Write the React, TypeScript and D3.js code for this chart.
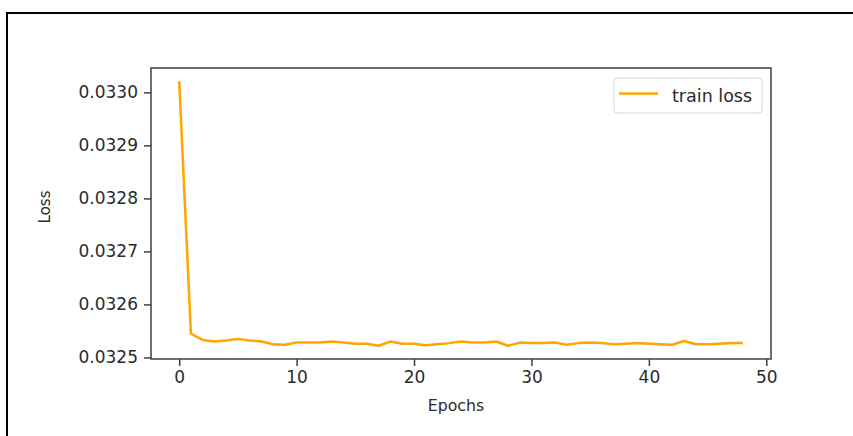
import React, { useEffect, useRef } from 'react';
import * as d3 from 'd3';

// train loss per epoch
const epochs = d3.range(0, 49);
const trainLoss = [
  0.033021, 0.032545, 0.032533, 0.03253, 0.032532, 0.032535, 0.032532, 0.03253, 0.032525, 0.032524,
  0.032528, 0.032528, 0.032528, 0.03253, 0.032528, 0.032526, 0.032526, 0.032522, 0.03253, 0.032526,
  0.032526, 0.032523, 0.032525, 0.032527, 0.03253, 0.032528, 0.032528, 0.03253, 0.032522, 0.032528,
  0.032527, 0.032527, 0.032528, 0.032524, 0.032527, 0.032528, 0.032527, 0.032525, 0.032526, 0.032527,
  0.032526, 0.032525, 0.032524, 0.032531, 0.032525, 0.032525, 0.032526, 0.032527, 0.032527,
];
const xTicks = [0, 10, 20, 30, 40, 50];
const yTicks = [0.0325, 0.0326, 0.0327, 0.0328, 0.0329, 0.033];
const seriesName = 'train loss';

function LossChart() {
  const svgRef = useRef<SVGSVGElement>(null);

  useEffect(() => {
    const svg = d3.select(svgRef.current);
    svg.selectAll('*').remove();

    const width = 853;
    const height = 436;
    const margin = { top: 68, right: 82, bottom: 77, left: 151 };
    const font = 'DejaVu Sans, sans-serif';
    const textColor = '#2b2b2b';
    const spineColor = '#404040';

    // outer frame of the screenshot (only top and left edges show)
    svg.append('path')
      .attr('d', `M7,${height} V13 H${width}`)
      .attr('fill', 'none')
      .attr('stroke', '#000')
      .attr('stroke-width', 2);

    // matplotlib style 5% padding
    const xPad = (d3.max(epochs)! - d3.min(epochs)!) * 0.05;
    const [yMin, yMax] = d3.extent(trainLoss) as [number, number];
    const yPad = (yMax - yMin) * 0.05;

    const x = d3.scaleLinear()
      .domain([d3.min(epochs)! - xPad, d3.max(epochs)! + xPad])
      .range([margin.left, width - margin.right]);
    const y = d3.scaleLinear()
      .domain([yMin - yPad, yMax + yPad])
      .range([height - margin.bottom, margin.top]);

    // line
    const line = d3.line<number>()
      .x((_, i) => x(epochs[i]))
      .y(d => y(d));
    svg.append('path')
      .datum(trainLoss)
      .attr('d', line)
      .attr('fill', 'none')
      .attr('stroke', '#ffa500')
      .attr('stroke-width', 2.5)
      .attr('stroke-linejoin', 'round');

    // X axis
    const xAxis = svg.append('g')
      .attr('transform', `translate(0,${height - margin.bottom})`)
      .call(d3.axisBottom(x).tickValues(xTicks).tickSize(7).tickPadding(5).tickFormat(d3.format('d')));
    xAxis.select('.domain').remove();
    xAxis.selectAll('line').attr('stroke', spineColor).attr('stroke-width', 1.5);
    xAxis.selectAll('text')
      .style('font-family', font)
      .style('font-size', '17px')
      .attr('fill', textColor);

    // Y axis
    const yAxis = svg.append('g')
      .attr('transform', `translate(${margin.left},0)`)
      .call(d3.axisLeft(y).tickValues(yTicks).tickSize(7).tickPadding(6).tickFormat(d3.format('.4f')));
    yAxis.select('.domain').remove();
    yAxis.selectAll('line').attr('stroke', spineColor).attr('stroke-width', 1.5);
    yAxis.selectAll('text')
      .style('font-family', font)
      .style('font-size', '17px')
      .attr('fill', textColor);

    // spines
    svg.append('rect')
      .attr('x', margin.left)
      .attr('y', margin.top)
      .attr('width', width - margin.left - margin.right)
      .attr('height', height - margin.top - margin.bottom)
      .attr('fill', 'none')
      .attr('stroke', spineColor)
      .attr('stroke-width', 1.5);

    // axis labels
    svg.append('text')
      .attr('x', 456)
      .attr('y', 411)
      .attr('text-anchor', 'middle')
      .style('font-family', font)
      .style('font-size', '15.8px')
      .attr('fill', textColor)
      .text('Epochs');
    svg.append('text')
      .attr('transform', 'translate(50,207) rotate(-90)')
      .attr('text-anchor', 'middle')
      .style('font-family', font)
      .style('font-size', '15px')
      .attr('fill', textColor)
      .text('Loss');

    // legend
    const legend = svg.append('g').attr('transform', 'translate(614,78)');
    legend.append('rect')
      .attr('width', 148)
      .attr('height', 35)
      .attr('rx', 3)
      .attr('fill', '#fff')
      .attr('stroke', '#d6d6d6')
      .attr('stroke-width', 1);
    legend.append('line')
      .attr('x1', 5).attr('x2', 44)
      .attr('y1', 15.5).attr('y2', 15.5)
      .attr('stroke', '#ffa500')
      .attr('stroke-width', 2.5);
    legend.append('text')
      .attr('x', 58)
      .attr('y', 23.5)
      .style('font-family', font)
      .style('font-size', '17.5px')
      .attr('fill', textColor)
      .text(seriesName);
  }, []);

  return (
    <svg
      ref={svgRef}
      width={853}
      height={436}
      style={{ position: 'absolute', left: 0, top: 0, background: '#fff' }}
    ></svg>
  );
}

export default function App() {
  return <LossChart />;
}
